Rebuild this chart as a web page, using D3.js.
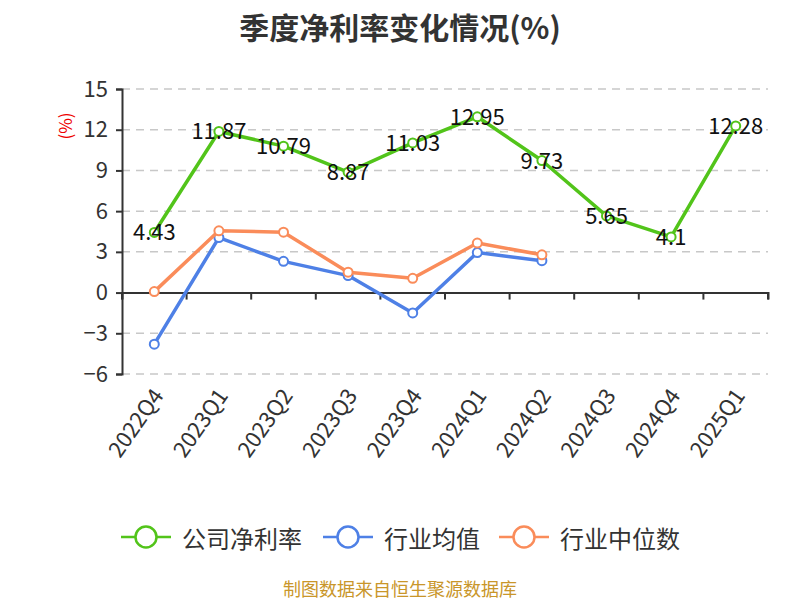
<!DOCTYPE html>
<html>
<head>
<meta charset="utf-8">
<script src="https://cdn.jsdelivr.net/npm/d3@7"></script>
<style>
  body { margin: 0; background: #fff; }
  text { font-family: "Noto Sans CJK SC", "Noto Sans", sans-serif; }
</style>
</head>
<body>
<div id="chart"></div>
<script>
// chart data
let quarters = ["2022Q4", "2023Q1", "2023Q2", "2023Q3", "2023Q4", "2024Q1", "2024Q2", "2024Q3", "2024Q4", "2025Q1"];
let companyRate = [4.43, 11.87, 10.79, 8.87, 11.03, 12.95, 9.73, 5.65, 4.1, 12.28];
let industryMean = [-3.8, 4.05, 2.3, 1.25, -1.5, 2.95, 2.35];
let industryMedian = [0.07, 4.55, 4.45, 1.5, 1.05, 3.65, 2.78];
let yTicks = [-6, -3, 0, 3, 6, 9, 12, 15];
let seriesNames = ["公司净利率", "行业均值", "行业中位数"];

let colors = ["#52c41a", "#4e80e6", "#fa8c5a"];

let svgWidth = 800;
let svgHeight = 600;
let margin = { top: 89, right: 32, bottom: 226, left: 122 };
let width = svgWidth - margin.left - margin.right;
let height = svgHeight - margin.top - margin.bottom;

let svg = d3.select("#chart")
  .append("svg")
  .attr("width", svgWidth)
  .attr("height", svgHeight);

// title
svg.append("text")
  .attr("x", svgWidth / 2)
  .attr("y", 26)
  .attr("text-anchor", "middle")
  .attr("dominant-baseline", "central")
  .attr("font-size", 30)
  .attr("font-weight", "bold")
  .attr("fill", "#333")
  .text("季度净利率变化情况(%)");

let chartGroup = svg.append("g")
  .attr("transform", `translate(${margin.left}, ${margin.top})`);

let x = d3.scaleBand().domain(quarters).range([0, width]);
let y = d3.scaleLinear().domain([-6, 15]).range([height, 0]);

// grid lines
chartGroup.append("g")
  .selectAll("line")
  .data(yTicks.filter(d => d !== 0))
  .join("line")
  .attr("x1", 0)
  .attr("x2", width)
  .attr("y1", d => y(d))
  .attr("y2", d => y(d))
  .attr("stroke", "#c8c8c8")
  .attr("stroke-width", 1.5)
  .attr("stroke-dasharray", "8,6");

// y axis
let leftAxis = d3.axisLeft(y).tickValues(yTicks).tickSize(6).tickPadding(8);
let yAxis = chartGroup.append("g").call(leftAxis);
yAxis.select(".domain").attr("stroke", "#333").attr("stroke-width", 2);
yAxis.selectAll(".tick line").attr("stroke", "#333").attr("stroke-width", 2);
yAxis.selectAll(".tick text")
  .attr("font-size", 22)
  .attr("fill", "#333")
  .style("font-family", "Noto Sans CJK SC");

// y axis unit
svg.append("text")
  .attr("transform", "translate(64, 126) rotate(-90)")
  .attr("text-anchor", "middle")
  .attr("dominant-baseline", "central")
  .attr("font-size", 17)
  .attr("fill", "#e00")
  .text("(%)");

// x axis at zero
let bottomAxis = d3.axisBottom(x).tickSize(7).tickFormat("");
let xAxis = chartGroup.append("g")
  .attr("transform", `translate(0, ${y(0)})`)
  .call(bottomAxis);
xAxis.select(".domain").attr("stroke", "#333").attr("stroke-width", 2);
xAxis.selectAll(".tick").attr("transform", d => `translate(${x(d)}, 0)`);
xAxis.selectAll(".tick line").attr("stroke", "#333").attr("stroke-width", 2);
xAxis.append("line")
  .attr("x1", width).attr("x2", width)
  .attr("y1", 0).attr("y2", 7)
  .attr("stroke", "#333").attr("stroke-width", 2);

// x labels along bottom
chartGroup.append("g")
  .selectAll("text")
  .data(quarters)
  .join("text")
  .attr("transform", d => `translate(${x(d) + x.bandwidth() / 2 + 2}, ${height + 16}) rotate(-55)`)
  .attr("text-anchor", "end")
  .attr("dominant-baseline", "central")
  .attr("font-size", 22)
  .attr("fill", "#333")
  .text(d => d);

let line = d3.line()
  .x((d, i) => x(quarters[i]) + x.bandwidth() / 2)
  .y(d => y(d));

let allSeries = [companyRate, industryMean, industryMedian];

allSeries.forEach((values, s) => {
  let g = chartGroup.append("g");
  g.append("path")
    .datum(values)
    .attr("d", line)
    .attr("fill", "none")
    .attr("stroke", colors[s])
    .attr("stroke-width", 3.5)
    .attr("stroke-linejoin", "round");
  g.selectAll("circle")
    .data(values)
    .join("circle")
    .attr("cx", (d, i) => x(quarters[i]) + x.bandwidth() / 2)
    .attr("cy", d => y(d))
    .attr("r", 4.5)
    .attr("fill", "#fff")
    .attr("stroke", colors[s])
    .attr("stroke-width", 2);
});

// value labels for company
chartGroup.append("g")
  .selectAll("text")
  .data(companyRate)
  .join("text")
  .attr("x", (d, i) => x(quarters[i]) + x.bandwidth() / 2)
  .attr("y", d => y(d) - 2)
  .attr("text-anchor", "middle")
  .attr("dominant-baseline", "central")
  .attr("font-size", 22)
  .attr("fill", "#111")
  .text(d => d);

// legend
let legendX = [121, 323, 499];
let legend = svg.append("g").attr("transform", "translate(0, 537)");
seriesNames.forEach((name, i) => {
  let lg = legend.append("g").attr("transform", `translate(${legendX[i]}, 0)`);
  lg.append("line")
    .attr("x1", 0).attr("x2", 50)
    .attr("stroke", colors[i]).attr("stroke-width", 2.5);
  lg.append("circle")
    .attr("cx", 25).attr("r", 10.5)
    .attr("fill", "#fff")
    .attr("stroke", colors[i]).attr("stroke-width", 2.5);
  lg.append("text")
    .attr("x", 61)
    .attr("dominant-baseline", "central")
    .attr("font-size", 24)
    .attr("fill", "#333")
    .text(name);
});

// source note
svg.append("text")
  .attr("x", 400)
  .attr("y", 588)
  .attr("text-anchor", "middle")
  .attr("dominant-baseline", "central")
  .attr("font-size", 18)
  .attr("fill", "#c9962a")
  .text("制图数据来自恒生聚源数据库");
</script>
</body>
</html>
